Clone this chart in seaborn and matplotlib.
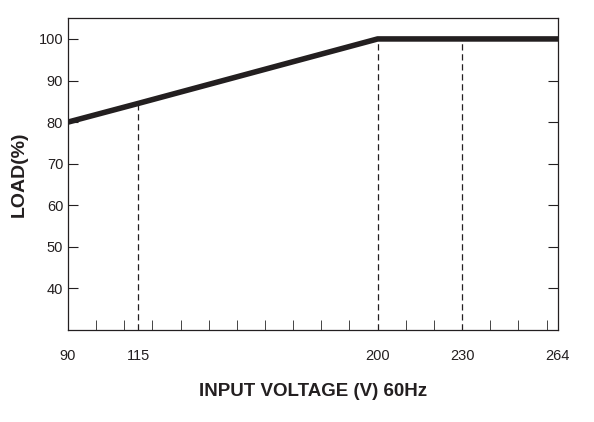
import numpy as np
import pandas as pd
import matplotlib
matplotlib.use("Agg")
import matplotlib.pyplot as plt
import seaborn as sns

voltage = [90, 115, 200, 264]
load = [80, 84.5, 100, 100]
marked_v = [115, 200, 230]
marked_load = [84.5, 100, 100]
x_ticks = [90, 115, 200, 230, 264]
y_ticks = [40, 50, 60, 70, 80, 90, 100]

sns.set_style("ticks")
plt.rcParams['font.family'] = ['Liberation Sans', 'DejaVu Sans']

fig = plt.figure(figsize=(5.94, 4.22), dpi=100)
ax = fig.add_axes([0.1145, 0.218, 0.8245, 0.739])

df = pd.DataFrame({'v': voltage, 'load': load})
sns.lineplot(data=df, x='v', y='load', ax=ax, color='#231f20', linewidth=4, sort=False)

# dashed guides
for v, l in zip(marked_v, marked_load):
    ax.plot([v, v], [30, l], color='#231f20', linestyle=(0, (5, 3)), linewidth=0.9)

ax.set_xlim(90, 264)
ax.set_ylim(30, 105)
ax.set_xticks(x_ticks)
ax.set_xticks(np.arange(100, 264, 10), minor=True)
ax.set_yticks(y_ticks)
ax.tick_params(axis='x', which='major', direction='in', length=0, pad=14, labelsize=10.5, colors='#231f20')
ax.tick_params(axis='x', which='minor', direction='in', length=7, bottom=True)
ax.tick_params(axis='y', direction='in', length=7, right=True, labelsize=10.5, colors='#231f20')
for s in ax.spines.values():
    s.set_linewidth(0.9)
    s.set_color('#231f20')

ax.set_xlabel('INPUT VOLTAGE (V) 60Hz', fontsize=13.5, fontweight='bold', labelpad=14, color='#231f20')
ax.set_ylabel('LOAD(%)', fontsize=14, fontweight='bold', labelpad=8, color='#231f20')

fig.savefig('out.png', dpi=100)
